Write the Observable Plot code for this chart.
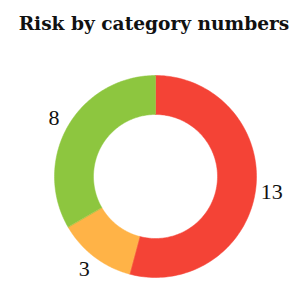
<!DOCTYPE html>
<html><head><meta charset="utf-8">
<script src="https://cdn.jsdelivr.net/npm/d3@7"></script>
<script src="https://cdn.jsdelivr.net/npm/@observablehq/plot@0.6"></script>
<style>
body{margin:0;background:#fff;}
#t{font-family:"DejaVu Serif",serif;font-weight:bold;font-size:18.6px;text-align:center;height:50px;line-height:47px;color:#111;padding-left:10px;white-space:nowrap;}
</style></head><body>
<div id="t">Risk by category numbers</div>
<div id="c"></div>
<script>
const categories = ["High", "Medium", "Low"];
const values = [13, 3, 8];
const colors = ["#f44336", "#ffb347", "#8dc63f"];

const total = d3.sum(values);
const inner = 0.614, outer = 1, labelR = 1.16;
const polys = [], labels = [];
let start = 0;
categories.forEach((c, i) => {
  const a0 = start / total * 2 * Math.PI, a1 = (start + values[i]) / total * 2 * Math.PI;
  const n = 120;
  for (let k = 0; k <= n; k++) { const a = a0 + (a1 - a0) * k / n; polys.push({c, x: outer * Math.sin(a), y: outer * Math.cos(a)}); }
  for (let k = n; k >= 0; k--) { const a = a0 + (a1 - a0) * k / n; polys.push({c, x: inner * Math.sin(a), y: inner * Math.cos(a)}); }
  const m = (a0 + a1) / 2;
  labels.push({c, v: values[i], x: labelR * Math.sin(m), y: labelR * Math.cos(m)});
  start += values[i];
});

const chart = Plot.plot({
  width: 298, height: 232,
  margin: 0,
  x: {domain: [-1, 1], range: [54, 256], axis: null},
  y: {domain: [-1, 1], range: [227, 25], axis: null},
  color: {domain: categories, range: colors},
  style: {fontFamily: "Liberation Serif, serif", background: "#fff"},
  marks: [
    Plot.line(polys, {x: "x", y: "y", z: "c", fill: "c", stroke: "c", strokeWidth: 0.5, curve: "linear-closed"}),
    Plot.text(labels, {x: "x", y: "y", text: d => String(d.v), fontSize: 22, fill: "#111"})
  ]
});
document.getElementById("c").appendChild(chart);
</script>
</body></html>
